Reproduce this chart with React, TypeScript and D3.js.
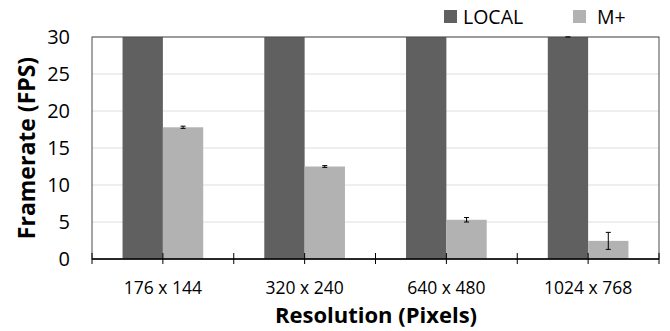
import React from 'react';
import * as d3 from 'd3';

const categories = ['176 x 144', '320 x 240', '640 x 480', '1024 x 768'];
const series = ['LOCAL', 'M+'];
const localValues = [30, 30, 30, 30];
const localErrors = [0, 0, 0, 0.05];
const mplusValues = [17.8, 12.5, 5.3, 2.45];
const mplusErrors = [0.15, 0.12, 0.3, 1.15];
const yTicks = [0, 5, 10, 15, 20, 25, 30];

const colors = ['#606060', '#b2b2b2'];
const font = "'Open Sans', sans-serif";

const W = 670, H = 331;
const margin = { top: 37, right: 11, bottom: 72, left: 92 };

const App = () => {
  const innerW = W - margin.left - margin.right;
  const innerH = H - margin.top - margin.bottom;

  const x = d3.scaleBand().domain(categories).range([0, innerW]).paddingInner(0.431).paddingOuter(0.2155);
  const x1 = d3.scaleBand().domain(series).range([0, x.bandwidth()]);
  const y = d3.scaleLinear().domain([0, 30]).range([innerH, 0]);

  const step = innerW / categories.length;
  const tickXs = d3.range(0, categories.length * 2 + 1).map(i => (i * step) / 2);

  const data = categories.map((c, i) => ({
    cat: c,
    vals: [
      { s: series[0], v: localValues[i], e: localErrors[i] },
      { s: series[1], v: mplusValues[i], e: mplusErrors[i] },
    ],
  }));

  const legendX = [444, 573];

  return (
    <svg width={W} height={H} style={{ position: 'absolute', left: 0, top: 0 }}>
      <rect width={W} height={H} fill="#fff" />
      <g transform={`translate(${margin.left},${margin.top})`}>
        {yTicks.filter(t => t > 0).map(t => (
          <line key={t} x1={0} x2={innerW} y1={y(t)} y2={y(t)} stroke="#dedede" strokeWidth={1} />
        ))}
        {data.map(d => (
          <g key={d.cat} transform={`translate(${x(d.cat)},0)`}>
            {d.vals.map((b, j) => {
              const bx = x1(b.s) || 0;
              const cx = bx + x1.bandwidth() / 2;
              return (
                <g key={b.s}>
                  <rect x={bx} y={y(b.v)} width={x1.bandwidth()} height={innerH - y(b.v)} fill={colors[j]} />
                  {b.e > 0 && (
                    <g stroke="#000" strokeWidth={1}>
                      <line x1={cx} x2={cx} y1={y(b.v + b.e)} y2={y(b.v - b.e)} />
                      <line x1={cx - 2.5} x2={cx + 2.5} y1={y(b.v + b.e)} y2={y(b.v + b.e)} />
                      <line x1={cx - 2.5} x2={cx + 2.5} y1={y(b.v - b.e)} y2={y(b.v - b.e)} />
                    </g>
                  )}
                </g>
              );
            })}
          </g>
        ))}
        <rect x={0} y={0} width={innerW} height={innerH} fill="none" stroke="#4a4a4a" strokeWidth={1} />
        <line x1={0} x2={innerW} y1={innerH} y2={innerH} stroke="#000" strokeWidth={1.3} />
        {tickXs.map((tx, i) => (
          <line key={i} x1={tx} x2={tx} y1={innerH - 6} y2={innerH + 5} stroke="#000" strokeWidth={1} />
        ))}
        {yTicks.map(t => (
          <text key={t} x={-22} y={y(t)} dy="0.36em" textAnchor="end" fontFamily={font} fontSize={20} fill="#000">
            {t}
          </text>
        ))}
        {categories.map(c => (
          <text key={c} x={(x(c) || 0) + x.bandwidth() / 2} y={innerH + 35} textAnchor="middle" fontFamily={font} fontSize={17.5} fill="#000">
            {c}
          </text>
        ))}
      </g>
      <text
        transform={`translate(35,148) rotate(-90)`}
        textAnchor="middle"
        fontFamily={font}
        fontSize={23}
        fontWeight="bold"
        fill="#000"
      >
        Framerate (FPS)
      </text>
      <text x={376} y={323} textAnchor="middle" fontFamily={font} fontSize={22} fontWeight="bold" fill="#000">
        Resolution (Pixels)
      </text>
      {series.map((s, i) => (
        <g key={s} transform={`translate(${legendX[i]},10)`}>
          <rect width={13} height={13} fill={colors[i]} />
          <text x={i === 0 ? 19 : 24} y={14} fontFamily={font} fontSize={19.5} fill="#000">
            {s}
          </text>
        </g>
      ))}
    </svg>
  );
};

export default App;
